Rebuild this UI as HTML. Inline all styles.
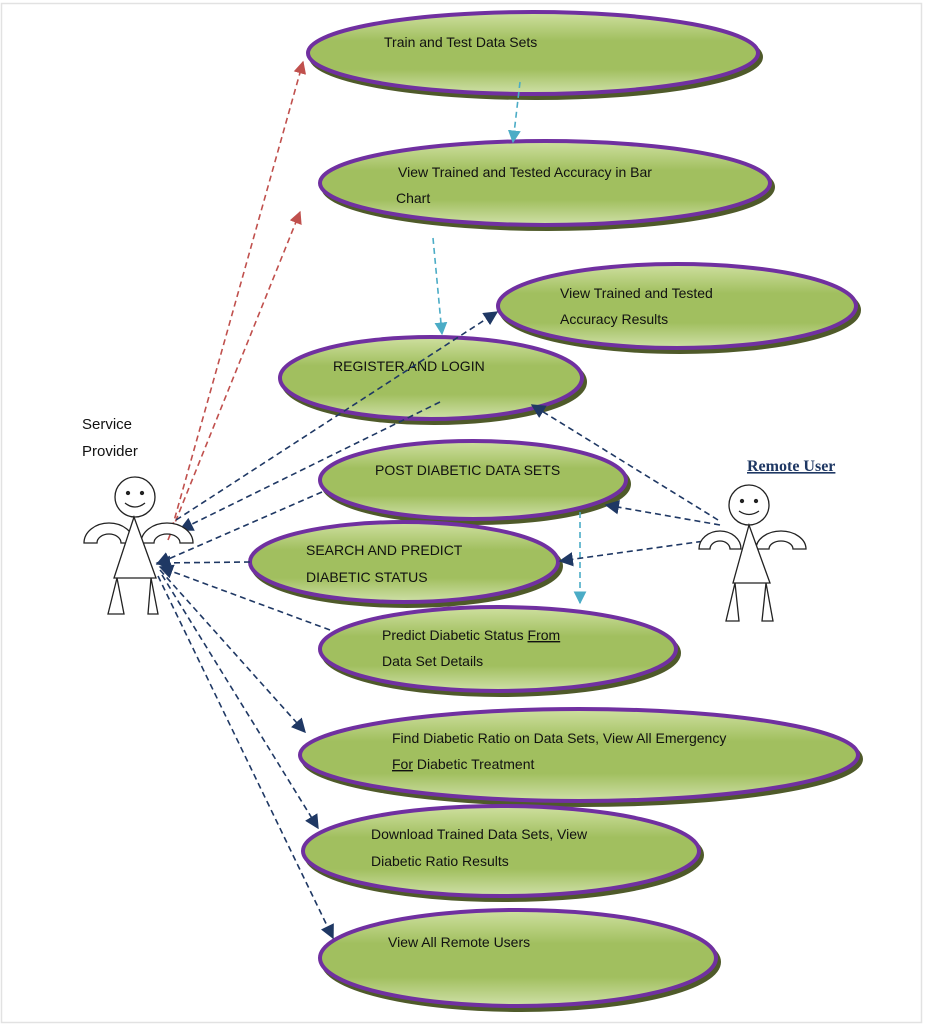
<!DOCTYPE html>
<html><head><meta charset="utf-8"><style>
html,body{margin:0;padding:0;background:#fff;}
svg{display:block;}
text{font-family:"Liberation Sans",sans-serif;font-size:14px;fill:#111;}
</style></head><body>
<svg width="925" height="1027" viewBox="0 0 925 1027" xmlns="http://www.w3.org/2000/svg">
<defs>
<linearGradient id="g" x1="0" y1="0" x2="0" y2="1">
<stop offset="0" stop-color="#cfe0a0"/><stop offset="0.35" stop-color="#a1bf5f"/><stop offset="0.7" stop-color="#a1bf5f"/><stop offset="1" stop-color="#cfe0a8"/>
</linearGradient>
<marker id="an" viewBox="0 0 10 10" refX="9" refY="5" markerWidth="9" markerHeight="9" orient="auto"><path d="M0,0L10,5L0,10z" fill="#1f3864"/></marker>
<marker id="ar" viewBox="0 0 10 10" refX="9" refY="5" markerWidth="8" markerHeight="8" orient="auto"><path d="M0,0L10,5L0,10z" fill="#c0504d"/></marker>
<marker id="ab" viewBox="0 0 10 10" refX="9" refY="5" markerWidth="8" markerHeight="8" orient="auto"><path d="M0,0L10,5L0,10z" fill="#4bacc6"/></marker>
</defs>
<rect x="1.5" y="3.5" width="920" height="1019" fill="none" stroke="#e2e2e2" stroke-width="1.5"/>

<g fill="url(#g)" stroke="#7030a0" stroke-width="4">
<ellipse cx="536" cy="57" rx="225" ry="41" fill="#4f5a2a" stroke="#4f5a2a"/>
<ellipse cx="533" cy="53" rx="225" ry="41"/>
<ellipse cx="548" cy="187" rx="225" ry="42" fill="#4f5a2a" stroke="#4f5a2a"/>
<ellipse cx="545" cy="183" rx="225" ry="42"/>
<ellipse cx="680" cy="310" rx="179" ry="42" fill="#4f5a2a" stroke="#4f5a2a"/>
<ellipse cx="677" cy="306" rx="179" ry="42"/>
<ellipse cx="434" cy="382" rx="151" ry="41" fill="#4f5a2a" stroke="#4f5a2a"/>
<ellipse cx="431" cy="378" rx="151" ry="41"/>
<ellipse cx="476" cy="484" rx="153" ry="39" fill="#4f5a2a" stroke="#4f5a2a"/>
<ellipse cx="473" cy="480" rx="153" ry="39"/>
<ellipse cx="407" cy="566" rx="154" ry="40" fill="#4f5a2a" stroke="#4f5a2a"/>
<ellipse cx="404" cy="562" rx="154" ry="40"/>
<ellipse cx="501" cy="653" rx="178" ry="42" fill="#4f5a2a" stroke="#4f5a2a"/>
<ellipse cx="498" cy="649" rx="178" ry="42"/>
<ellipse cx="582" cy="759" rx="279" ry="46" fill="#4f5a2a" stroke="#4f5a2a"/>
<ellipse cx="579" cy="755" rx="279" ry="46"/>
<ellipse cx="504" cy="855" rx="198" ry="45" fill="#4f5a2a" stroke="#4f5a2a"/>
<ellipse cx="501" cy="851" rx="198" ry="45"/>
<ellipse cx="521" cy="962" rx="198" ry="48" fill="#4f5a2a" stroke="#4f5a2a"/>
<ellipse cx="518" cy="958" rx="198" ry="48"/>
</g>

<text x="384" y="47">Train and Test Data Sets</text>
<text x="398" y="177">View  Trained and Tested Accuracy in Bar</text>
<text x="396" y="203">Chart</text>
<text x="560" y="298">View Trained and Tested</text>
<text x="560" y="324">Accuracy Results</text>
<text x="333" y="371">REGISTER AND LOGIN</text>
<text x="375" y="475">POST DIABETIC DATA SETS</text>
<text x="306" y="555">SEARCH AND PREDICT</text>
<text x="306" y="582">DIABETIC STATUS</text>
<text x="382" y="640">Predict Diabetic Status <tspan text-decoration="underline">From</tspan></text>
<text x="382" y="666">Data Set Details</text>
<text x="392" y="743">Find Diabetic Ratio on Data Sets, View All Emergency</text>
<text x="392" y="769"><tspan text-decoration="underline">For</tspan> Diabetic Treatment</text>
<text x="371" y="839">Download Trained Data Sets, View</text>
<text x="371" y="866">Diabetic Ratio Results</text>
<text x="388" y="947">View All Remote Users</text>

<text x="82" y="429" style="font-size:15px">Service</text>
<text x="82" y="456" style="font-size:15px">Provider</text>
<text x="747" y="471" style="font-family:'Liberation Serif',serif;font-weight:bold;font-size:16px;fill:#1f3864" text-decoration="underline">Remote User</text>

<g fill="none" stroke-dasharray="6,4" stroke-width="1.6">
<line x1="172" y1="528" x2="303" y2="62" stroke="#c0504d" marker-end="url(#ar)"/>
<line x1="168" y1="540" x2="300" y2="212" stroke="#c0504d" marker-end="url(#ar)"/>
<line x1="520" y1="82" x2="513" y2="142" stroke="#4bacc6" marker-end="url(#ab)"/>
<line x1="433" y1="238" x2="442" y2="334" stroke="#4bacc6" marker-end="url(#ab)"/>
<line x1="580" y1="512" x2="580" y2="603" stroke="#4bacc6" marker-end="url(#ab)"/>
<g stroke="#1f3864">
<line x1="176" y1="520" x2="497" y2="312" marker-end="url(#an)"/>
<line x1="440" y1="402" x2="180" y2="530" marker-end="url(#an)"/>
<line x1="322" y1="492" x2="157" y2="564" marker-end="url(#an)"/>
<line x1="250" y1="562" x2="157" y2="563" marker-end="url(#an)"/>
<line x1="330" y1="630" x2="160" y2="567" marker-end="url(#an)"/>
<line x1="160" y1="570" x2="305" y2="732" marker-end="url(#an)"/>
<line x1="162" y1="575" x2="318" y2="828" marker-end="url(#an)"/>
<line x1="158" y1="576" x2="333" y2="938" marker-end="url(#an)"/>
<line x1="718" y1="520" x2="532" y2="405" marker-end="url(#an)"/>
<line x1="720" y1="525" x2="606" y2="505" marker-end="url(#an)"/>
<line x1="712" y1="540" x2="560" y2="561" marker-end="url(#an)"/>
</g>
</g>

<g fill="#fff" stroke="#222" stroke-width="1.3">
<circle cx="135" cy="497" r="20"/>
<circle cx="128" cy="493" r="1.5" fill="#222"/><circle cx="142" cy="493" r="1.5" fill="#222"/>
<path d="M125,503 Q135,511 145,503" fill="none"/>
<path d="M84,543 A25,20 0 0 1 134,543 L121,543 A12,9 0 0 0 97,543 Z"/>
<path d="M141,543 A26,20 0 0 1 193,543 L180,543 A13,9 0 0 0 154,543 Z"/>
<path d="M134,517 L114,578 L156,578 Z"/>
<path d="M117,578 L108,614 L124,614 Z"/>
<path d="M151,578 L148,614 L158,614 Z"/>
<circle cx="749" cy="505" r="20"/>
<circle cx="742" cy="501" r="1.5" fill="#222"/><circle cx="756" cy="501" r="1.5" fill="#222"/>
<path d="M739,511 Q749,518 759,511" fill="none"/>
<path d="M699,549 A21,18 0 0 1 741,549 L730,549 A10,8 0 0 0 710,549 Z"/>
<path d="M756,549 A25,18 0 0 1 806,549 L793,549 A12,8 0 0 0 769,549 Z"/>
<path d="M749,525 L733,583 L770,583 Z"/>
<path d="M735,583 L726,621 L739,621 Z"/>
<path d="M766,583 L762,621 L773,621 Z"/>
</g>
</svg>
</body></html>
